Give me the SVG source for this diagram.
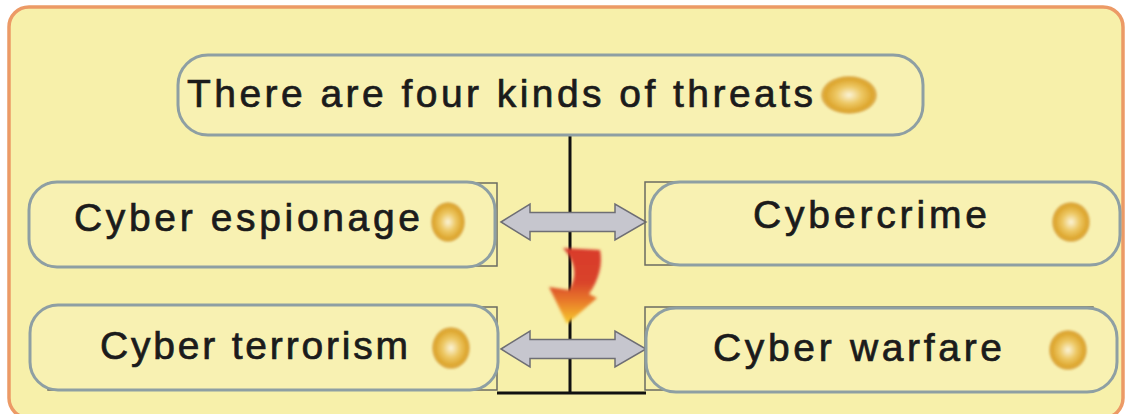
<svg xmlns="http://www.w3.org/2000/svg" width="1125" height="414" viewBox="0 0 1125 414">
  <style>
    .frame { fill: #F7F0AA; stroke: #EC9A66; stroke-width: 3.5; }
    .box { fill: #F8F1B2; stroke: #8E9FA3; stroke-width: 3; }
    .edge { fill: none; stroke: #6B6B62; stroke-width: 1.5; }
    .label { font-family: "Liberation Sans", Arial, sans-serif; font-size: 39px; fill: #1B1B1B; stroke: #1B1B1B; stroke-width: 0.7; }
    .ball { fill: url(#ballGrad); filter: url(#soft); }
    .link { fill: none; stroke: #111111; stroke-width: 3; }
    .dbl { fill: #C6C6CE; stroke: #6E6E74; stroke-width: 1.5; stroke-linejoin: miter; }
  </style>
  <defs>
    <radialGradient id="ballGrad" cx="0.5" cy="0.5" r="0.5">
      <stop offset="0" stop-color="#FBF4D8"/>
      <stop offset="0.45" stop-color="#EDC864"/>
      <stop offset="0.85" stop-color="#DDA52C"/>
      <stop offset="1" stop-color="#D6A040" stop-opacity="0.7"/>
    </radialGradient>
    <linearGradient id="fireGrad" x1="0" y1="0" x2="0" y2="1">
      <stop offset="0" stop-color="#D93A2A"/>
      <stop offset="0.45" stop-color="#D9432A"/>
      <stop offset="0.7" stop-color="#E87A2A"/>
      <stop offset="1" stop-color="#F8CC2C"/>
    </linearGradient>
    <filter id="soft" x="-20%" y="-20%" width="140%" height="140%">
      <feGaussianBlur stdDeviation="1"/>
    </filter>
    <filter id="blurry" x="-30%" y="-30%" width="160%" height="160%">
      <feGaussianBlur stdDeviation="1.8"/>
    </filter>
  </defs>

  <!-- background panel -->
  <rect class="frame" x="9" y="7" width="1114" height="411" rx="20"/>

  <!-- connectors -->
  <g id="connectors">
    <path class="link" d="M570 135 V393 M497 393 H646"/>
    <polygon class="dbl" points="501,222 530,204 530,212.5 615,212.5 615,204 646,222 615,240 615,231.5 530,231.5 530,240"/>
    <polygon class="dbl" points="501,349 530,331 530,339.5 615,339.5 615,331 646,349 615,367 615,358.5 530,358.5 530,367"/>
    <path fill="url(#fireGrad)" filter="url(#blurry)" d="M563 248 C575 261 578 276 569 290 L549 287 L567 324 L597 298 L589 294 C599 280 603 264 600 250 Z"/>
  </g>

  <!-- top node -->
  <g id="node-threats">
    <rect class="box" x="178" y="55" width="745" height="80" rx="30"/>
    <text class="label" x="187" y="107" textLength="626" lengthAdjust="spacing">There are four kinds of threats</text>
    <ellipse class="ball" cx="849" cy="95" rx="28" ry="19"/>
  </g>

  <!-- Cyber espionage -->
  <g id="node-espionage">
    <rect class="edge" x="48" y="183" width="449" height="83"/>
    <rect class="box" x="29" y="182" width="466" height="85" rx="28"/>
    <text class="label" x="74" y="231" textLength="346" lengthAdjust="spacing">Cyber espionage</text>
    <ellipse class="ball" cx="448" cy="222" rx="17" ry="20"/>
  </g>

  <!-- Cybercrime -->
  <g id="node-cybercrime">
    <rect class="edge" x="645" y="182" width="448" height="83"/>
    <rect class="box" x="650" y="182" width="470" height="83" rx="30"/>
    <text class="label" x="753" y="228" textLength="234" lengthAdjust="spacing">Cybercrime</text>
    <ellipse class="ball" cx="1071" cy="222" rx="19" ry="20"/>
  </g>

  <!-- Cyber terrorism -->
  <g id="node-terrorism">
    <rect class="edge" x="48" y="307" width="449" height="83"/>
    <rect class="box" x="30" y="305" width="468" height="85" rx="28"/>
    <text class="label" x="100" y="359" textLength="308" lengthAdjust="spacing">Cyber terrorism</text>
    <ellipse class="ball" cx="451" cy="348" rx="19" ry="21"/>
  </g>

  <!-- Cyber warfare -->
  <g id="node-warfare">
    <rect class="edge" x="645" y="307" width="448" height="83"/>
    <rect class="box" x="646" y="308" width="471" height="84" rx="30"/>
    <text class="label" x="713" y="361" textLength="289" lengthAdjust="spacing">Cyber warfare</text>
    <ellipse class="ball" cx="1068" cy="350" rx="19" ry="20"/>
  </g>
</svg>
